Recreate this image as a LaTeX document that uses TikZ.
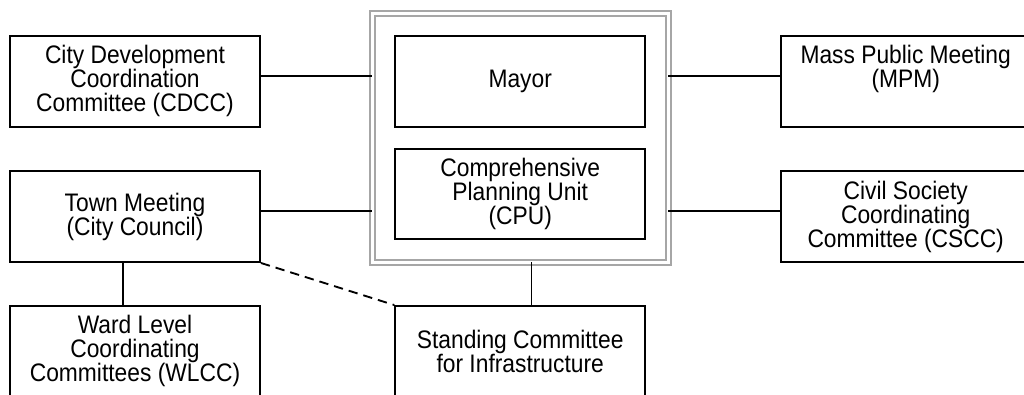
\documentclass[tikz,border=0pt]{standalone}
\usepackage{fontspec}
\setmainfont{Liberation Sans}[FakeStretch=0.9]
\usetikzlibrary{fit}
\begin{document}
\begin{tikzpicture}[x=0.75pt, y=-0.75pt,
  every node/.style = {font=\fontsize{19pt}{18pt}\selectfont},
  box/.style = {shape=rectangle, draw, line width=1.4pt, align=center,
    minimum width=187.5pt, minimum height=68pt, inner sep=0pt},
  frame/.style = {draw=black!35, line width=1.5pt, double=white,
    double distance=2.25pt, inner sep=16.5pt, outer sep=0pt},
  link/.style = {line width=1.4pt}]
  \clip (0,0) rectangle (1024,394);
  \node[box] (cdcc) at (135,81.3) {City Development\\Coordination\\Committee (CDCC)};
  \node[box] (mayor) at (520.2,81.3) {Mayor};
  \node[box] (mpm) at (905.7,81.3) {Mass Public Meeting\\(MPM)\\\phantom{(}};
  \node[box] (town) at (135,216.7) {Town Meeting\\(City Council)};
  \node[box] (cpu) at (520.2,194) {Comprehensive\\Planning Unit\\(CPU)};
  \node[box] (cscc) at (905.7,216.7) {Civil Society\\Coordinating\\Committee (CSCC)};
  \node[box] (wlcc) at (135,351.3) {Ward Level\\Coordinating\\Committees (WLCC)};
  \node[box] (sci) at (520.2,351.3) {Standing Committee\\for Infrastructure};
  % double frame round mayor and planning unit
  \node[frame, fit=(mayor)(cpu)] (unit) {};
  \draw[link, transform canvas={yshift=4pt}] (cdcc.east) -- (cdcc.east -| unit.west);
  \draw[link, transform canvas={yshift=4pt}] (town.east) -- (town.east -| unit.west);
  \draw[link, transform canvas={yshift=4pt}] (unit.east |- mpm.west) -- (mpm.west);
  \draw[link, transform canvas={yshift=4pt}] (unit.east |- cscc.west) -- (cscc.west);
  \draw[link, transform canvas={xshift=8.5pt}] (unit.south) -- (unit.south |- sci.north);
  \draw[link, transform canvas={xshift=-8.75pt}] (town.south) -- (wlcc.north);
  \draw[link, dash pattern=on 7pt off 4.5pt] (town.south east) -- (sci.north west);
\end{tikzpicture}
\end{document}
